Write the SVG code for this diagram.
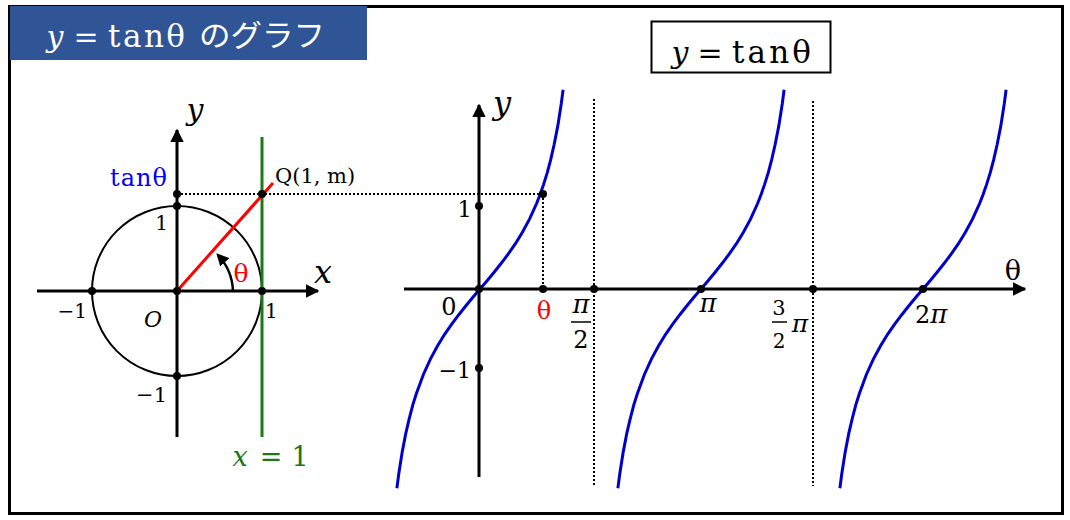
<svg xmlns="http://www.w3.org/2000/svg" width="1070" height="520" viewBox="0 0 1070 520">
<defs>
<style>
.ax{stroke:#000;stroke-width:3;fill:none}
.dot{fill:#000}
.dt{stroke:#000;stroke-width:2;stroke-dasharray:2,2;fill:none}
.cv{stroke:#0000cc;stroke-width:3;fill:none}
.m{font-family:"DejaVu Serif","Liberation Serif",serif;fill:#000}
.i{font-style:italic}
.w{fill:#fff}
.red{fill:#ff0000}
.blue{fill:#0000ff}
.grn{fill:#1a7a1a}
</style>
<marker id="ah" viewBox="0 0 10 10" refX="9" refY="5" markerWidth="4.5" markerHeight="4.5" orient="auto" markerUnits="strokeWidth">
<path d="M0,0 L10,5 L0,10 z" fill="#000"/>
</marker>
<marker id="ah2" viewBox="0 0 10 10" refX="8" refY="5" markerWidth="5" markerHeight="5" orient="auto" markerUnits="strokeWidth">
<path d="M0,0 L10,5 L0,10 z" fill="#000"/>
</marker>
<path id="br" d="M396.9,488.2 L398.7,474.3 L402.2,452.1 L405.8,433.3 L409.3,418.3 L412.8,404.9 L416.4,393.6 L423.4,374.5 L430.5,358.9 L437.6,345.8 L444.6,334.3 L451.7,324.1 L458.8,314.7 L465.9,305.8 L472.9,297.3 L480,289 L487.1,280.7 L494.1,272.2 L501.2,263.3 L508.3,253.9 L515.4,243.7 L522.4,232.2 L529.5,219.1 L536.6,203.5 L540.1,194.5 L543.6,184.4 L547.2,172.9 L550.7,159.7 L554.2,144.3 L557.8,125.9 L561.3,103.5 L563.1,89.8"/>
</defs>

<rect x="9.5" y="6.5" width="1053" height="507" fill="#fff" stroke="#000" stroke-width="3"/>

<g id="title">
<rect x="10" y="6" width="357" height="54" fill="#2f5597"/>
<text x="55" y="47" font-size="30" class="m i w" text-anchor="middle">y</text>
<text x="86" y="47" font-size="30" class="m w" text-anchor="middle">=</text>
<text x="108" y="47" font-size="31" class="m w" textLength="77" lengthAdjust="spacing">tanθ</text>
<text x="199" y="46" font-size="30" fill="#fff" font-family="'Noto Sans CJK JP',sans-serif" textLength="126" lengthAdjust="spacingAndGlyphs">のグラフ</text>
</g>

<g id="formula-box">
<rect x="651.5" y="21.5" width="179" height="51" fill="#fff" stroke="#000" stroke-width="2"/>
<text x="680" y="63" font-size="30" class="m i" text-anchor="middle">y</text>
<text x="710" y="63" font-size="30" class="m" text-anchor="middle">=</text>
<text x="732" y="63" font-size="31" class="m" textLength="79" lengthAdjust="spacing">tanθ</text>
</g>

<g id="connectors">
<circle cx="177" cy="291" r="85" fill="none" stroke="#000" stroke-width="2"/>
<line x1="37" y1="291" x2="318" y2="291" class="ax" marker-end="url(#ah)"/>
<line x1="177" y1="437" x2="177" y2="130" class="ax" marker-end="url(#ah)"/>
<line x1="262" y1="137" x2="262" y2="437" stroke="#1a7a1a" stroke-width="3"/>
<line x1="177" y1="194" x2="543" y2="194" class="dt"/>
<line x1="177" y1="291" x2="273" y2="183" stroke="#ff0000" stroke-width="3"/>
<path d="M233,291 A56,56 0 0 0 218,255" fill="none" stroke="#000" stroke-width="2.5" marker-end="url(#ah2)"/>
<line x1="404" y1="289" x2="1025" y2="289" class="ax" marker-end="url(#ah)"/>
<line x1="479" y1="477" x2="479" y2="105" class="ax" marker-end="url(#ah)"/>
<line x1="594" y1="99" x2="594" y2="486" class="dt"/>
<line x1="813" y1="101" x2="813" y2="486" class="dt"/>
<line x1="543" y1="194" x2="543" y2="289" class="dt"/>
<use href="#br" class="cv"/>
<use href="#br" class="cv" transform="translate(221,0)"/>
<use href="#br" class="cv" transform="translate(443,0)"/>
</g>

<g id="points">
<circle cx="177" cy="291" r="4" class="dot"/>
<circle cx="92" cy="291" r="4" class="dot"/>
<circle cx="262" cy="291" r="4" class="dot"/>
<circle cx="177" cy="206" r="4" class="dot"/>
<circle cx="177" cy="376" r="4" class="dot"/>
<circle cx="177" cy="194" r="4" class="dot"/>
<circle cx="262" cy="194" r="4" class="dot"/>
<circle cx="479" cy="289" r="4" class="dot"/>
<circle cx="543" cy="289" r="4" class="dot"/>
<circle cx="594" cy="289" r="4" class="dot"/>
<circle cx="701" cy="289" r="4" class="dot"/>
<circle cx="813" cy="289" r="4" class="dot"/>
<circle cx="923" cy="289" r="4" class="dot"/>
<circle cx="479" cy="206" r="4" class="dot"/>
<circle cx="479" cy="368" r="4" class="dot"/>
<circle cx="543" cy="194" r="4" class="dot"/>
</g>

<g id="labels-left">
<text x="195" y="120" font-size="30" class="m i" text-anchor="middle">y</text>
<text x="323" y="283" font-size="32" class="m i" text-anchor="middle">x</text>
<text x="110" y="186" font-size="24" class="m blue" textLength="57" lengthAdjust="spacing">tanθ</text>
<text x="275" y="183" font-size="21" class="m">Q(1, m)</text>
<text x="168" y="230" font-size="20" class="m" text-anchor="end">1</text>
<text x="241" y="282" font-size="25" class="m red" text-anchor="middle">θ</text>
<text x="87" y="318" font-size="20" class="m" text-anchor="end">−1</text>
<text x="265" y="318" font-size="20" class="m">1</text>
<text x="153" y="327" font-size="22" class="m i" text-anchor="middle">O</text>
<text x="167" y="402" font-size="21" class="m" text-anchor="end">−1</text>
<text x="240" y="466" font-size="27" class="m i grn" text-anchor="middle">x</text>
<text x="271" y="466" font-size="27" class="m grn" text-anchor="middle">=</text>
<text x="300" y="466" font-size="27" class="m grn" text-anchor="middle">1</text>
</g>

<g id="labels-right">
<text x="502" y="114" font-size="32" class="m i" text-anchor="middle">y</text>
<text x="1013" y="280" font-size="27" class="m" text-anchor="middle">θ</text>
<text x="472" y="217" font-size="23" class="m" text-anchor="end">1</text>
<text x="471" y="378" font-size="22" class="m" text-anchor="end">−1</text>
<text x="449" y="315" font-size="24" class="m" text-anchor="middle">0</text>
<text x="544" y="319" font-size="24" class="m red" text-anchor="middle">θ</text>
<text x="581" y="313" font-size="26" class="m i" text-anchor="middle">π</text>
<line x1="571" y1="322" x2="591" y2="322" stroke="#000" stroke-width="1.5"/>
<text x="581" y="348" font-size="24" class="m" text-anchor="middle">2</text>
<text x="708" y="312" font-size="26" class="m i" text-anchor="middle">π</text>
<text x="779" y="315" font-size="21" class="m" text-anchor="middle">3</text>
<line x1="772" y1="322" x2="787" y2="322" stroke="#000" stroke-width="1.5"/>
<text x="779" y="348" font-size="20" class="m" text-anchor="middle">2</text>
<text x="800" y="332" font-size="25" class="m i" text-anchor="middle">π</text>
<text x="915" y="323" font-size="24" class="m">2<tspan class="i" font-size="26">π</tspan></text>
</g>
</svg>
